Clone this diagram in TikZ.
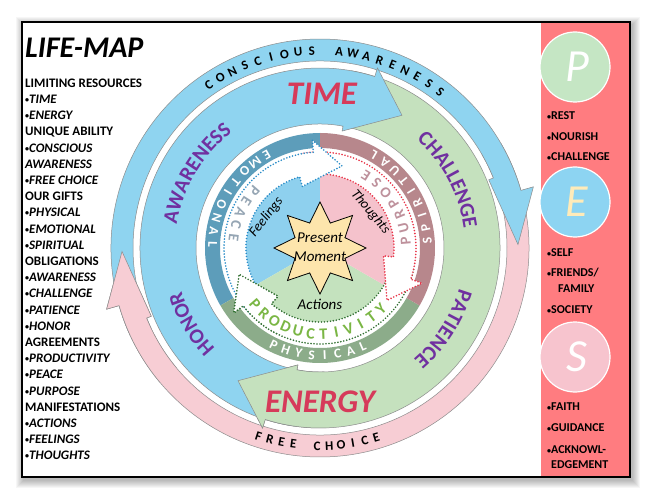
\documentclass[tikz,border=0pt]{standalone}
\usepackage{fontspec}
\setmainfont{Carlito}
\usetikzlibrary{decorations.text}
\definecolor{bigblue}{RGB}{143,212,240}
\definecolor{biggreen}{RGB}{197,225,190}
\definecolor{ringpink}{RGB}{247,205,212}
\definecolor{emo}{RGB}{93,157,186}
\definecolor{spi}{RGB}{183,135,140}
\definecolor{phy}{RGB}{140,172,138}
\definecolor{pieblue}{RGB}{142,208,238}
\definecolor{piepink}{RGB}{245,194,204}
\definecolor{piegreen}{RGB}{196,226,190}
\definecolor{starfill}{RGB}{253,229,172}
\definecolor{purp}{RGB}{112,48,160}
\definecolor{crimson}{RGB}{214,58,90}
\definecolor{panel}{RGB}{255,124,128}
\definecolor{dotblue}{RGB}{40,140,200}
\definecolor{dotred}{RGB}{232,52,72}
\definecolor{dotgreen}{RGB}{50,112,50}
\definecolor{peacec}{RGB}{150,166,180}
\definecolor{purpc}{RGB}{190,145,156}
\definecolor{prodc}{RGB}{122,182,68}
\definecolor{pcirc}{RGB}{197,230,196}
\definecolor{ecirc}{RGB}{141,212,242}
\definecolor{scirc}{RGB}{247,196,206}
\definecolor{ecream}{RGB}{255,235,185}
\def\offo{14}\def\offi{21}
\newcommand\bul{{\fontsize{8}{8}\selectfont\upshape\raisebox{0.22ex}{•}}}
% #1 style, #2 tail angle, #3 tip angle, #4 shaft r in, #5 shaft r out, #6 head r in, #7 head r out, #8 tip r
\newcommand\arcarrow[8]{%
  \path[#1] (#2:#5pt) arc[start angle=#2, end angle={#3+\offo}, radius=#5pt]
    -- ({#3+\offo}:#7pt) -- (#3:#8pt) -- ({#3+\offi}:#6pt) -- ({#3+\offi}:#4pt)
    arc[start angle={#3+\offi}, end angle=#2, radius=#4pt];}
% #1 style, #2 radius, #3 start angle, #4 step, #5 rotation offset, #6 letters
\newcommand\arcletters[6]{%
  \foreach \ch [count=\i from 0] in {#6}{%
    \pgfmathsetmacro\ang{#3+\i*(#4)}%
    \node[#1, rotate={\ang+(#5)}] at (\ang:#2pt) {\ch};}}
\newcommand\purpfont{\fontsize{21}{21}\selectfont\bfseries\color{purp}}
% clockwise word: #1 centre angle, #2 baseline radius, #3 word
\newcommand\purpword[3]{%
  \path[decorate, decoration={text along path, text={|\purpfont|#3}, text align=center}]
    ({#1+45}:#2pt) arc[start angle={#1+45}, end angle={#1-45}, radius=#2pt];}
\begin{document}
\begin{tikzpicture}[x=1pt,y=1pt,
  arr/.style={draw=black!45, line width=0.5pt},
  dotarr/.style={fill=white, dash pattern=on 0pt off 3pt, line cap=round, line width=1.8pt},
  ringlet/.style={text=white, font=\bfseries\fontsize{13.5}{13.5}\selectfont, inner sep=0pt},
  innlet/.style={font=\bfseries\fontsize{15}{15}\selectfont, inner sep=0pt},
  outlet/.style={text=black, font=\bfseries\fontsize{13}{13}\selectfont, inner sep=0pt},
  listh/.style={anchor=west, inner sep=0pt, font=\bfseries\fontsize{13}{13}\selectfont},
  listi/.style={anchor=west, inner sep=0pt, font=\bfseries\itshape\fontsize{13}{13}\selectfont},
  panelt/.style={anchor=west, inner sep=0pt, font=\bfseries\fontsize{12}{12}\selectfont},
  inword/.style={font=\itshape\fontsize{15}{19}\selectfont, inner sep=0pt, align=center},
  bigword/.style={font=\bfseries\itshape\fontsize{33}{33}\selectfont, text=crimson, inner sep=0pt},
  circ/.style={circle, minimum size=70pt, inner sep=0pt, draw=white, line width=1.2pt},
  circlet/.style={font=\itshape\fontsize{46}{46}\selectfont, inner sep=0pt}
]
\useasboundingbox (0,0) rectangle (651,499);
\fill[white] (0,0) rectangle (651,499);
% frame shadow
\foreach \k in {1,...,8}{\fill[black, opacity=0.035] ({22+2-\k},{22-3-\k}) rectangle ({630+2+\k},{477-3+\k});}
\fill[white] (22,22) rectangle (630,477);
\fill[panel] (541,22) rectangle (630,477);

\begin{scope}[shift={(320,251)}]
% outer ring arrows
\def\offo{15}\def\offi{21}
\arcarrow{fill=ringpink, arr}{30}{-179}{187}{209}{182}{222}{198}
\arcarrow{fill=bigblue, arr}{205}{1}{187}{209}{182}{222}{198}
\arcarrow{fill=ringpink, arr}{-140}{-179}{187}{209}{182}{222}{198}
% big arrows
\def\offo{14}\def\offi{21}
\arcarrow{fill=biggreen, arr}{80}{-121.7}{124}{180}{119}{189}{156}
\arcarrow{fill=bigblue, arr}{262}{58.3}{124}{180}{119}{189}{156}
\arcarrow{fill=biggreen, arr}{-88}{-121.7}{124}{180}{119}{189}{156}
% coloured ring
\fill[emo] (90:115pt) arc[start angle=90,end angle=210,radius=115pt] -- (210:100pt) arc[start angle=210,end angle=90,radius=100pt] -- cycle;
\fill[phy] (210:115pt) arc[start angle=210,end angle=330,radius=115pt] -- (330:100pt) arc[start angle=330,end angle=210,radius=100pt] -- cycle;
\fill[spi] (330:115pt) arc[start angle=330,end angle=450,radius=115pt] -- (90:100pt) arc[start angle=450,end angle=330,radius=100pt] -- cycle;
% pie
\fill[pieblue] (0,0) -- (90:74pt) arc[start angle=90,end angle=210,radius=74pt] -- cycle;
\fill[piegreen] (0,0) -- (210:74pt) arc[start angle=210,end angle=330,radius=74pt] -- cycle;
\fill[piepink] (0,0) -- (330:74pt) arc[start angle=330,end angle=450,radius=74pt] -- cycle;
% dotted arrows
\def\offo{19}\def\offi{31}
\arcarrow{dotarr, draw=dotgreen}{-13}{-162}{74}{96}{64}{108}{85}
\arcarrow{dotarr, draw=dotred}{100}{-38}{74}{96}{64}{108}{85}
\arcarrow{dotarr, draw=dotblue}{223}{75}{74}{96}{64}{108}{85}
\arcarrow{dotarr, draw=dotgreen}{-117}{-162}{74}{96}{64}{108}{85}
% star
\draw[fill=starfill, line width=0.8pt, line join=miter] (90:46pt)
  \foreach \k in {1,...,15}{ -- ({90+22.5*\k}:{(mod(\k,2)==1 ? 27 : 46)*1pt}) } -- cycle;
\node[inword] (pm) at (0,0.5) {Present\\Moment};
\node[inword, font=\itshape\fontsize{14}{14}\selectfont, rotate=52] (feel) at (150:62pt) {Feelings};
\node[inword, font=\itshape\fontsize{14}{14}\selectfont, rotate=-50] (thou) at (35.5:62pt) {Thoughts};
\node[inword] (act) at (270:56pt) {Actions};
% ring words
\arcletters{outlet}{197}{124.4}{-4}{-90}{C,O,N,S,C,I,O,U,S,{},A,W,A,R,E,N,E,S,S}
\arcletters{outlet}{198}{251.9}{3.46}{90}{F,R,E,E,{},C,H,O,I,C,E}
\arcletters{ringlet}{107.5}{119.8}{7.3}{90}{E,M,O,T,I,O,N,A,L}
\arcletters{ringlet}{107.5}{4}{7}{90}{S,P,I,R,I,T,U,A,L}
\arcletters{ringlet}{107.5}{244.5}{7}{90}{P,H,Y,S,I,C,A,L}
\arcletters{innlet, text=peacec}{87}{139}{8.5}{90}{P,E,A,C,E}
\arcletters{innlet, text=purpc}{86}{5}{8.8}{90}{P,U,R,P,O,S,E}
\arcletters{innlet, text=prodc, font=\bfseries\fontsize{16}{16}\selectfont}{86}{221}{8.55}{90}{P,R,O,D,U,C,T,I,V,I,T,Y}
% purple words
\purpword{149}{145}{AWARENESS}
\purpword{28}{145}{CHALLENGE}
\purpword{-33}{145}{PATIENCE}
\purpword{210.5}{145}{HONOR}
% TIME / ENERGY
\node[bigword] (time) at (2,154) {TIME};
\node[bigword] (energy) at (0,-154) {ENERGY};
\end{scope}

% left list
\node[anchor=west, inner sep=0pt, font=\bfseries\itshape\fontsize{30}{30}\selectfont] (title) at (25,451) {LIFE-MAP};
\foreach \t/\sty [count=\i from 0] in {LIMITING RESOURCES/h, \bul TIME/i, \bul ENERGY/i, UNIQUE ABILITY/h, \bul CONSCIOUS/i, AWARENESS/i, \bul FREE CHOICE/i, OUR GIFTS/h, \bul PHYSICAL/i, \bul EMOTIONAL/i, \bul SPIRITUAL/i, OBLIGATIONS/h, \bul AWARENESS/i, \bul CHALLENGE/i, \bul PATIENCE/i, \bul HONOR/i, AGREEMENTS/h, \bul PRODUCTIVITY/i, \bul PEACE/i, \bul PURPOSE/i, MANIFESTATIONS/h, \bul ACTIONS/i, \bul FEELINGS/i, \bul THOUGHTS/i}
  {\node[list\sty] (L\i) at (25,{416-16.2*\i}) {\t};}

% right panel
\node[circ, fill=pcirc] (pc) at (575,432) {};
\node[circlet, text=white] (pl) at (577,432) {P};
\node[circ, fill=ecirc] (ec) at (575,297) {};
\node[circlet, text=ecream] (el) at (577,297) {E};
\node[circ, fill=scirc] (sc) at (575,142) {};
\node[circlet, text=white] (sl) at (577,142) {S};
\node[panelt] (p1) at (547,383) {\bul REST};
\node[panelt] (p2) at (547,362) {\bul NOURISH};
\node[panelt] (p3) at (547,342) {\bul CHALLENGE};
\node[panelt] (e1) at (547,246) {\bul SELF};
\node[panelt] (e2) at (547,226) {\bul FRIENDS/};
\node[panelt] (e3) at (558,210) {FAMILY};
\node[panelt] (e4) at (547,189) {\bul SOCIETY};
\node[panelt] (s1) at (547,92) {\bul FAITH};
\node[panelt] (s2) at (547,71) {\bul GUIDANCE};
\node[panelt] (s3) at (547,49) {\bul ACKNOWL-};
\node[panelt] (s4) at (551,34) {EDGEMENT};

\draw[line width=2pt] (22,22) rectangle (630,477);
\end{tikzpicture}
\end{document}
